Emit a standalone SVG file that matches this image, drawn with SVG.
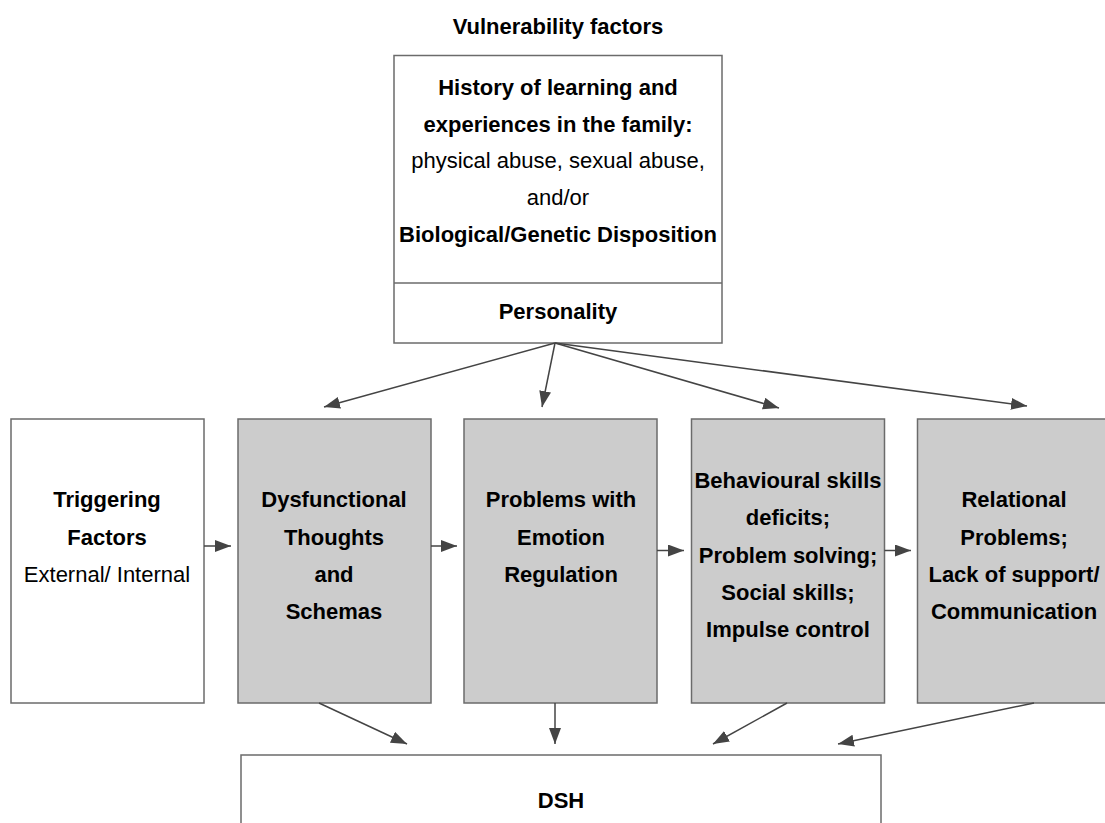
<svg xmlns="http://www.w3.org/2000/svg" width="1105" height="823" viewBox="0 0 1105 823">
<style>
.box{fill:#ffffff;stroke:#6b6b6b;stroke-width:1.5}
.gbox{fill:#cccccc;stroke:#6b6b6b;stroke-width:1.5}
.t{font-family:"Liberation Sans",Arial,sans-serif;font-size:22px;fill:#000;text-anchor:middle}
.b{font-weight:bold}
.c{fill:none;stroke:#444444;stroke-width:1.5}
</style>
<defs>
<marker id="ah" markerUnits="userSpaceOnUse" markerWidth="18" markerHeight="14" refX="16" refY="6" orient="auto">
<path d="M0,0 L16,6 L0,12 Z" fill="#444444"/>
</marker>
</defs>
<rect width="1105" height="823" fill="#ffffff"/>
<text class="t b" x="558" y="34">Vulnerability factors</text>
<g id="vulnerability">
<rect class="box" x="394" y="55.5" width="328" height="287.5"/>
<line x1="394" y1="283" x2="722" y2="283" stroke="#6b6b6b" stroke-width="1.5"/>
<text class="t b" x="558" y="95">History of learning and</text>
<text class="t b" x="558" y="132">experiences in the family:</text>
<text class="t" x="558" y="168">physical abuse, sexual abuse,</text>
<text class="t" x="558" y="205">and/or</text>
<text class="t b" x="558" y="242">Biological/Genetic Disposition</text>
<text class="t b" x="558" y="319">Personality</text>
</g>
<g id="triggering">
<rect class="box" x="11" y="419" width="193" height="284"/>
<text class="t b" x="107" y="507">Triggering</text>
<text class="t b" x="107" y="545">Factors</text>
<text class="t" x="107" y="582">External/ Internal</text>
</g>
<g id="dysfunctional">
<rect class="gbox" x="238" y="419" width="193" height="284"/>
<text class="t b" x="334" y="507">Dysfunctional</text>
<text class="t b" x="334" y="545">Thoughts</text>
<text class="t b" x="334" y="582">and</text>
<text class="t b" x="334" y="619">Schemas</text>
</g>
<g id="emotion">
<rect class="gbox" x="464" y="419" width="193" height="284"/>
<text class="t b" x="561" y="507">Problems with</text>
<text class="t b" x="561" y="545">Emotion</text>
<text class="t b" x="561" y="582">Regulation</text>
</g>
<g id="behavioural">
<rect class="gbox" x="691.5" y="419" width="193" height="284"/>
<text class="t b" x="788" y="488">Behavioural skills</text>
<text class="t b" x="788" y="525">deficits;</text>
<text class="t b" x="788" y="563">Problem solving;</text>
<text class="t b" x="788" y="600">Social skills;</text>
<text class="t b" x="788" y="637">Impulse control</text>
</g>
<g id="relational">
<rect class="gbox" x="917.5" y="419" width="194" height="284"/>
<text class="t b" x="1014" y="507">Relational</text>
<text class="t b" x="1014" y="545">Problems;</text>
<text class="t b" x="1014" y="582">Lack of support/</text>
<text class="t b" x="1014" y="619">Communication</text>
</g>
<g id="dsh">
<rect class="box" x="241" y="755" width="640" height="100"/>
<text class="t b" x="561" y="808">DSH</text>
</g>
<g id="connectors">
<line class="c" x1="555" y1="343" x2="324" y2="407" marker-end="url(#ah)"/>
<line class="c" x1="555" y1="343" x2="542" y2="407" marker-end="url(#ah)"/>
<line class="c" x1="555" y1="343" x2="779" y2="408" marker-end="url(#ah)"/>
<line class="c" x1="555" y1="343" x2="1027" y2="406" marker-end="url(#ah)"/>
<line class="c" x1="204" y1="546" x2="231" y2="546" marker-end="url(#ah)"/>
<line class="c" x1="431" y1="546" x2="457" y2="546" marker-end="url(#ah)"/>
<line class="c" x1="657" y1="550.5" x2="684" y2="550.5" marker-end="url(#ah)"/>
<line class="c" x1="884.5" y1="550.5" x2="911" y2="550.5" marker-end="url(#ah)"/>
<line class="c" x1="319" y1="703" x2="407" y2="744" marker-end="url(#ah)"/>
<line class="c" x1="555" y1="703" x2="555" y2="744" marker-end="url(#ah)"/>
<line class="c" x1="787" y1="703" x2="713" y2="744" marker-end="url(#ah)"/>
<line class="c" x1="1034" y1="703" x2="838" y2="744" marker-end="url(#ah)"/>
</g>
</svg>
